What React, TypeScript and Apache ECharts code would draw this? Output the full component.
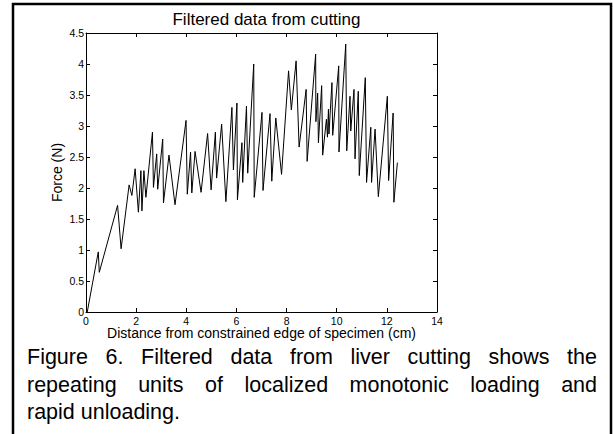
import React, { useEffect, useRef } from "react";
import * as echarts from "echarts";

const titleText = "Filtered data from cutting";
const xAxisName = "Distance from constrained edge of specimen (cm)";
const yAxisName = "Force (N)";
const captionLines = [
  "Figure 6. Filtered data from liver cutting shows the",
  "repeating units of localized monotonic loading and",
  "rapid unloading.",
];

const xTicks = [0, 2, 4, 6, 8, 10, 12, 14];
const yTicks = [0, 0.5, 1, 1.5, 2, 2.5, 3, 3.5, 4, 4.5];

const distanceCm = [
  0.05, 0.49, 0.53, 1.26, 1.4, 1.72, 1.83, 1.96, 2.09, 2.19, 2.23, 2.31, 2.39,
  2.65, 2.69, 2.82, 2.86, 3.06, 3.09, 3.31, 3.55, 3.99, 4.04, 4.17, 4.22, 4.35,
  4.59, 4.85, 4.99, 5.16, 5.21, 5.41, 5.58, 5.82, 5.88, 6.02, 6.04, 6.22, 6.25,
  6.4, 6.45, 6.69, 6.71, 7.02, 7.06, 7.34, 7.41, 7.57, 7.8, 8.08, 8.19, 8.38,
  8.5, 8.78, 8.82, 9.16, 9.17, 9.24, 9.27, 9.4, 9.44, 9.59, 9.63, 9.67, 9.69,
  9.81, 9.84, 10.08, 10.09, 10.36, 10.4, 10.53, 10.56, 10.69, 10.73, 10.86,
  10.9, 11.14, 11.19, 11.36, 11.39, 11.53, 11.66, 12.02, 12.07, 12.25, 12.28,
  12.42,
];
const forceN = [
  0, 0.97, 0.64, 1.72, 1.02, 2.05, 1.88, 2.31, 1.61, 2.28, 1.63, 2.28, 1.85,
  2.9, 2.01, 2.55, 1.98, 2.79, 1.76, 2.53, 1.73, 3.09, 1.9, 2.58, 1.92, 2.59,
  1.93, 2.88, 1.97, 2.9, 2.16, 3.03, 1.78, 3.3, 2.29, 3.37, 1.81, 2.73, 2.09,
  3.32, 2.24, 4.0, 1.85, 3.22, 1.96, 3.2, 2.11, 3.13, 2.22, 3.89, 3.26, 4.05,
  2.66, 3.59, 2.43, 4.16, 3.07, 3.53, 2.73, 3.65, 2.53, 3.11, 2.82, 3.27, 2.87,
  3.7, 2.85, 3.97, 2.58, 4.32, 2.6, 3.48, 2.92, 3.59, 2.47, 3.56, 2.2, 3.78,
  2.09, 2.98, 2.09, 2.95, 1.86, 3.48, 2.12, 3.21, 1.77, 2.41,
];

const FONT = "'Liberation Sans', Arial, Helvetica, sans-serif";

function captionElements() {
  const size = 21.5;
  const left = 27;
  const right = 597;
  const ys = [357, 385, 412];
  const canvas = document.createElement("canvas");
  const ctx = canvas.getContext("2d") as CanvasRenderingContext2D;
  ctx.font = `${size}px ${FONT}`;
  const els: any[] = [];
  captionLines.forEach((line, li) => {
    const words = line.split(" ");
    const justify = li < captionLines.length - 1;
    const widths = words.map((w) => ctx.measureText(w).width);
    const total = widths.reduce((a, b) => a + b, 0);
    const gap = justify
      ? (right - left - total) / (words.length - 1)
      : ctx.measureText(" ").width;
    let x = left;
    words.forEach((w, i) => {
      els.push({
        type: "text",
        x,
        y: ys[li],
        style: {
          text: w,
          fill: "#000",
          font: `${size}px ${FONT}`,
          textAlign: "left",
          textVerticalAlign: "middle",
        },
      });
      x += widths[i] + gap;
    });
  });
  return els;
}

export default function App() {
  const ref = useRef<HTMLDivElement>(null);
  useEffect(() => {
    if (!ref.current) return;
    const chart = echarts.init(ref.current, null, { renderer: "svg" });
    const data = distanceCm.map((x, i) => [x, forceN[i]]);
    const axisCommon = {
      type: "value" as const,
      axisLine: { show: true, onZero: false, lineStyle: { color: "#000", width: 1 } },
      axisTick: { show: true, inside: true, length: 4, lineStyle: { color: "#000" } },
      splitLine: { show: false },
    };
    const labelStyle = { color: "#000", fontSize: 10.5, fontFamily: FONT };
    chart.setOption({
      animation: false,
      backgroundColor: "#fff",
      title: {
        text: titleText,
        left: 261.5,
        top: 6,
        textAlign: "center",
        textStyle: { color: "#000", fontSize: 17, fontWeight: "normal", fontFamily: FONT },
      },
      grid: { left: 86, top: 33, width: 351, height: 279 },
      xAxis: [
        {
          ...axisCommon,
          position: "bottom",
          min: xTicks[0],
          max: xTicks[xTicks.length - 1],
          interval: 2,
          axisLabel: { ...labelStyle, margin: 3 },
        },
        {
          ...axisCommon,
          position: "top",
          min: xTicks[0],
          max: xTicks[xTicks.length - 1],
          interval: 2,
          axisLabel: { show: false },
        },
      ],
      yAxis: [
        {
          ...axisCommon,
          position: "left",
          min: yTicks[0],
          max: yTicks[yTicks.length - 1],
          interval: 0.5,
          axisLabel: { ...labelStyle, margin: 2 },
        },
        {
          ...axisCommon,
          position: "right",
          min: yTicks[0],
          max: yTicks[yTicks.length - 1],
          interval: 0.5,
          axisLabel: { show: false },
        },
      ],
      series: [
        {
          type: "line",
          data,
          xAxisIndex: 0,
          yAxisIndex: 0,
          showSymbol: false,
          symbol: "none",
          lineStyle: { color: "#000", width: 1 },
        },
      ],
      graphic: [
        {
          type: "rect",
          shape: { x: 13, y: 4, width: 598, height: 460 },
          style: { fill: "none", stroke: "#000", lineWidth: 2.5 },
          silent: true,
        },
        {
          type: "text",
          x: 261.5,
          y: 333,
          style: {
            text: xAxisName,
            fill: "#000",
            font: `14px ${FONT}`,
            textAlign: "center",
            textVerticalAlign: "middle",
          },
        },
        {
          type: "text",
          x: 57,
          y: 172.5,
          rotation: Math.PI / 2,
          style: {
            text: yAxisName,
            fill: "#000",
            font: `14px ${FONT}`,
            textAlign: "center",
            textVerticalAlign: "middle",
          },
        },
        ...captionElements(),
      ],
    });
    return () => chart.dispose();
  }, []);
  return (
    <div
      ref={ref}
      style={{ position: "fixed", left: 0, top: 0, width: 613, height: 434, background: "#fff" }}
    />
  );
}
